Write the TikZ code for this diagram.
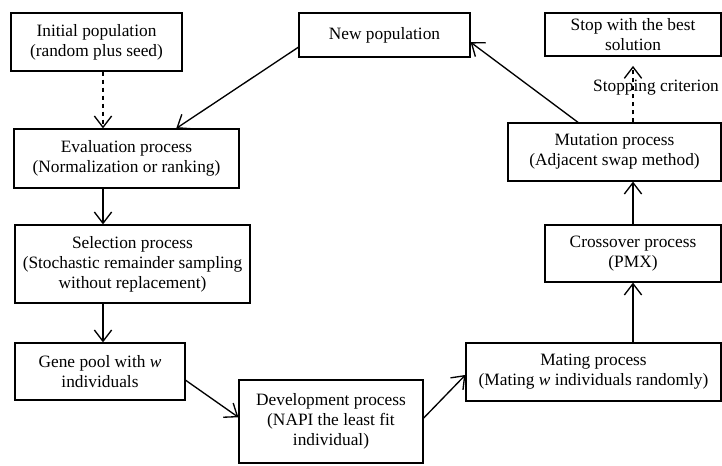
\documentclass[tikz,border=0pt]{standalone}
\usepackage{fontspec}
\setmainfont{Liberation Serif}
\usetikzlibrary{arrows.meta,calc}

\begin{document}
\begin{tikzpicture}[x=0.75pt, y=-0.75pt, >={Straight Barb[length=8.5pt,width=13pt]},
		font=\fontsize{13}{15}\selectfont,
		stage/.style={draw, line width=0.9pt, align=center, inner sep=1pt},
		flow/.style={->, line width=1pt}]
			\useasboundingbox (0,0) rectangle (722,466);

			\node (init) [stage, minimum width=128.25pt, minimum height=43.5pt] at (96.5,42) {Initial population\\(random plus seed)};
			\node (newpop) [stage, minimum width=128.25pt, minimum height=33pt] at (384.5,35) {New population};
			\node (stop) [stage, minimum width=132pt, minimum height=32.25pt] at (633,34.5) {Stop with the best\\solution};
			\node (eval) [stage, minimum width=168.75pt, minimum height=44.25pt] at (126.5,158.5) {Evaluation process\\(Normalization or ranking)};
			\node (sel) [stage, minimum width=176.25pt, minimum height=58.5pt] at (132.5,264) {Selection process\\(Stochastic remainder sampling\\without replacement)};
			\node (gene) [stage, minimum width=127.5pt, minimum height=42.75pt] at (100,371.5) {Gene pool with \textit{w}\\individuals};
			\node (dev) [stage, minimum width=138pt, minimum height=62.25pt] at (331,421.5) {Development process\\(NAPI the least fit\\individual)};
			\node (mating) [stage, minimum width=191.25pt, minimum height=43.5pt] at (593.5,372) {Mating process\\(Mating \textit{w} individuals randomly)};
			\node (cross) [stage, minimum width=132pt, minimum height=42.75pt] at (633,253.5) {Crossover process\\(PMX)};
			\node (mut) [stage, minimum width=159.75pt, minimum height=43.5pt] at (614.5,152) {Mutation process\\(Adjacent swap method)};

			\coordinate (lcol) at (103,0);

			\draw[flow, dashed] (init.south -| lcol) -- (eval.north -| lcol);
			\draw[flow] (eval.south -| lcol) -- (sel.north -| lcol);
			\draw[flow] (sel.south -| lcol) -- (gene.north -| lcol);
			\draw[flow] ($(gene.north east)!0.65!(gene.south east)$) -- ($(dev.north west)!0.45!(dev.south west)$);
			\draw[flow] ($(dev.north east)!0.46!(dev.south east)$) -- ($(mating.north west)!0.55!(mating.south west)$);
			\draw[flow] (mating.north -| cross) -- (cross.south);
			\draw[flow] (cross.north) -- (mut.south -| cross);
			\draw[flow, dashed, shorten >=7pt] (mut.north -| cross) -- (stop.south);
			\node (crit) at (656,88) {Stopping criterion};
			\draw[flow] ($(mut.north west)!0.33!(mut.north east)$) -- ($(newpop.north east)!0.66!(newpop.south east)$);
			\draw[flow] ($(newpop.north west)!0.77!(newpop.south west)$) -- ($(eval.north west)!0.72!(eval.north east)$);
		\end{tikzpicture}
\end{document}
